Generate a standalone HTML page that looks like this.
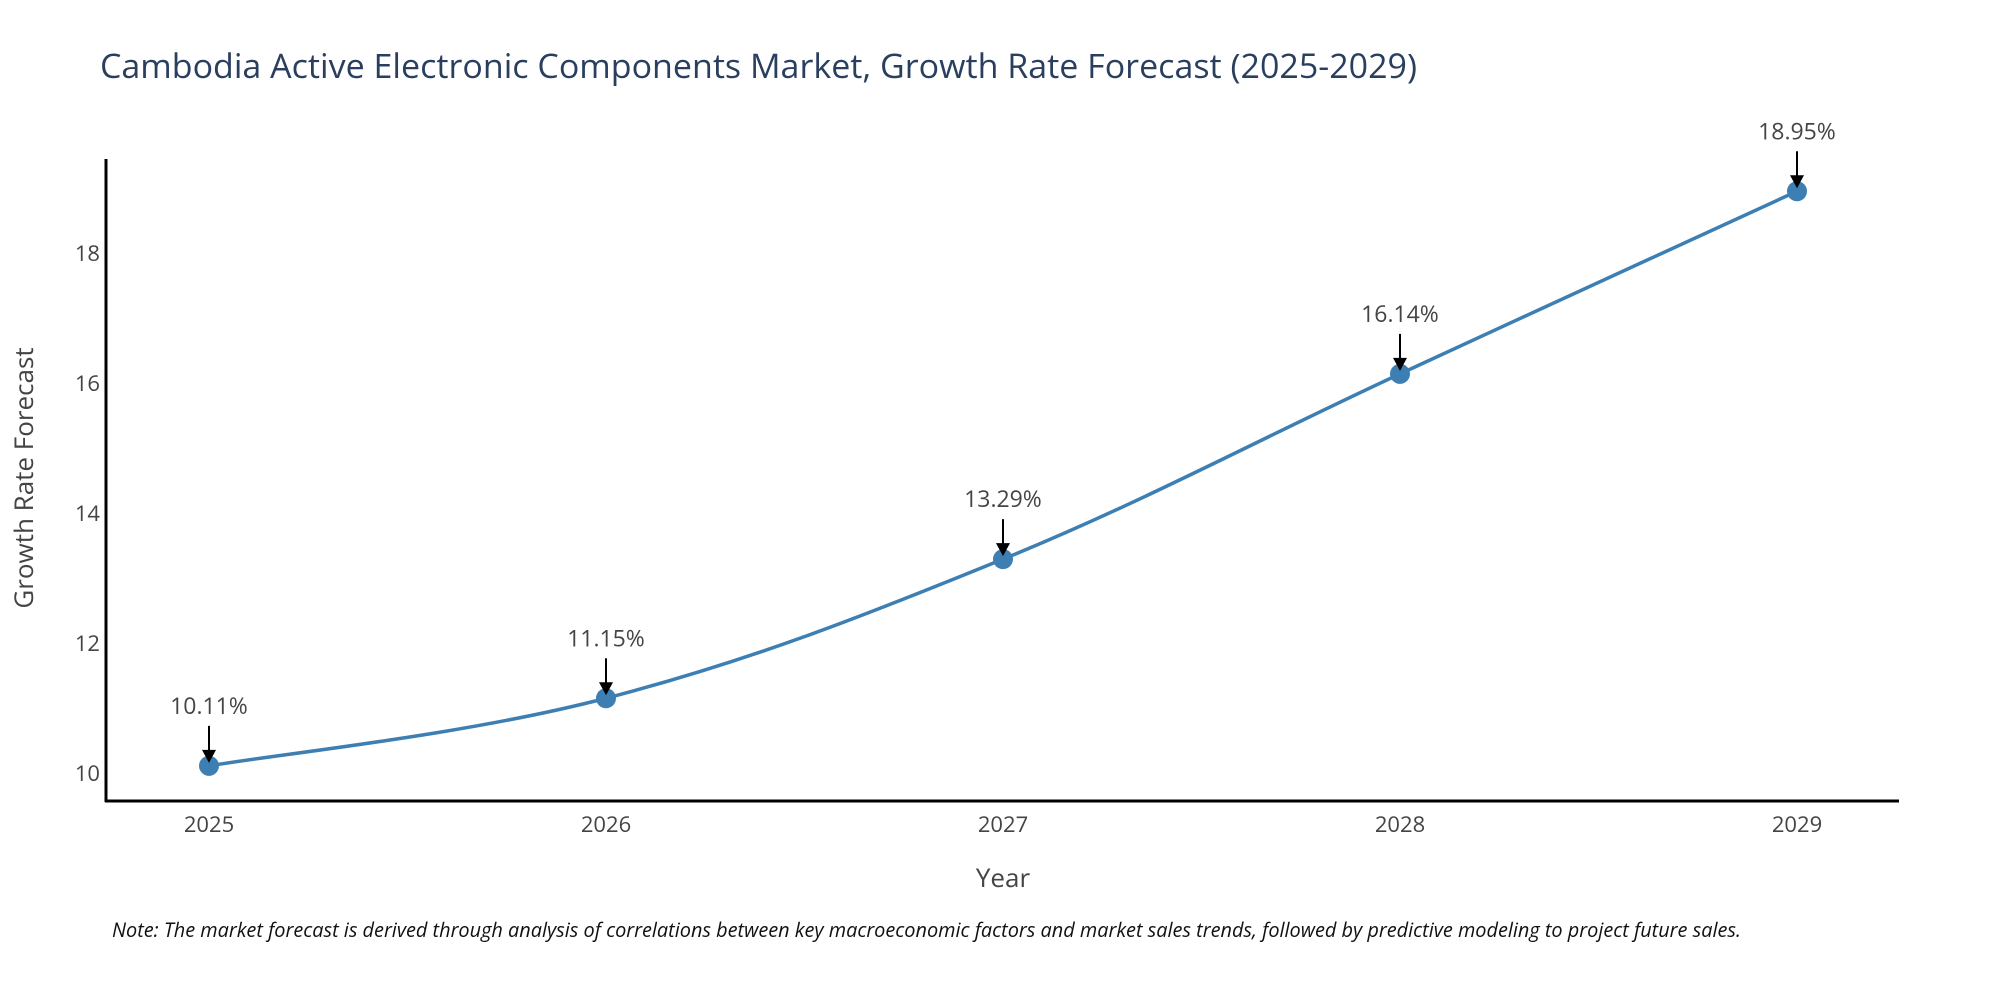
<!DOCTYPE html>
<html><head><meta charset="utf-8"><style>
body{margin:0;background:#fff;}
svg{display:block;font-family:"Open Sans","Liberation Sans",sans-serif;}
</style></head><body>
<svg id="chart" width="2000" height="1000" viewBox="0 0 2000 1000">
<text x="100" y="78" font-size="34" fill="#2a3f5f">Cambodia Active Electronic Components Market, Growth Rate Forecast (2025-2029)</text>
<g id="axes"></g>
<g id="plot"></g>
<text x="1003" y="887" font-size="26" fill="#444" text-anchor="middle">Year</text>
<text transform="translate(33,478) rotate(-90)" font-size="26" fill="#444" text-anchor="middle">Growth Rate Forecast</text>
<text x="112" y="937" font-size="19.9" font-style="italic" fill="#111">Note: The market forecast is derived through analysis of correlations between key macroeconomic factors and market sales trends, followed by predictive modeling to project future sales.</text>
</svg>
<script>
const years=[2025,2026,2027,2028,2029];
const values=[10.11,11.15,13.29,16.14,18.95];
const labels=["10.11%","11.15%","13.29%","16.14%","18.95%"];
const yTicks=[10,12,14,16,18];
const NS="http://www.w3.org/2000/svg";
const xs=y=>209+(y-2025)*(1797-209)/4;
const ys=v=>773-(v-10)*65;
function mk(tag,attrs,parent){const e=document.createElementNS(NS,tag);for(const k in attrs)e.setAttribute(k,attrs[k]);parent.appendChild(e);return e;}
const axes=document.getElementById('axes'),plot=document.getElementById('plot');
let a=mk('line',{x1:106,y1:159,x2:106,y2:802,stroke:'#000','stroke-width':3},axes);


a=mk('line',{x1:105,y1:801,x2:1899,y2:801,stroke:'#000','stroke-width':3},axes);


yTicks.forEach(t=>{const e=mk('text',{x:100,y:ys(t)+8,'font-size':22,fill:'#444','text-anchor':'end'},axes);e.textContent=t;

});
years.forEach(t=>{const e=mk('text',{x:xs(t),y:832,'font-size':22,fill:'#444','text-anchor':'middle'},axes);e.textContent=t;

});
const pts=years.map((y,i)=>[xs(y),ys(values[i])]);
let d='M'+pts[0][0]+','+pts[0][1];
const k=0.18;
for(let i=0;i<pts.length-1;i++){const p0=pts[Math.max(0,i-1)],p1=pts[i],p2=pts[i+1],p3=pts[Math.min(pts.length-1,i+2)];
d+=' C'+(p1[0]+(p2[0]-p0[0])*k)+','+(p1[1]+(p2[1]-p0[1])*k)+' '+(p2[0]-(p3[0]-p1[0])*k)+','+(p2[1]-(p3[1]-p1[1])*k)+' '+p2[0]+','+p2[1];}
const line=mk('path',{d:d,fill:'none',stroke:'#3d7fb3','stroke-width':3.5},plot);


pts.forEach((p,i)=>{
const c=mk('circle',{cx:p[0],cy:p[1],r:10,fill:'#3d7fb3'},plot);


const l=mk('line',{x1:p[0],y1:p[1]-40,x2:p[0],y2:p[1]-14,stroke:'#000','stroke-width':2},plot);


const h=mk('path',{d:`M${p[0]-7},${p[1]-16} L${p[0]+7},${p[1]-16} L${p[0]},${p[1]-3} Z`,fill:'#000'},plot);


const t=mk('text',{x:p[0],y:p[1]-52,'font-size':23,fill:'#444','text-anchor':'middle'},plot);t.textContent=labels[i];


});
</script>
</body></html>
